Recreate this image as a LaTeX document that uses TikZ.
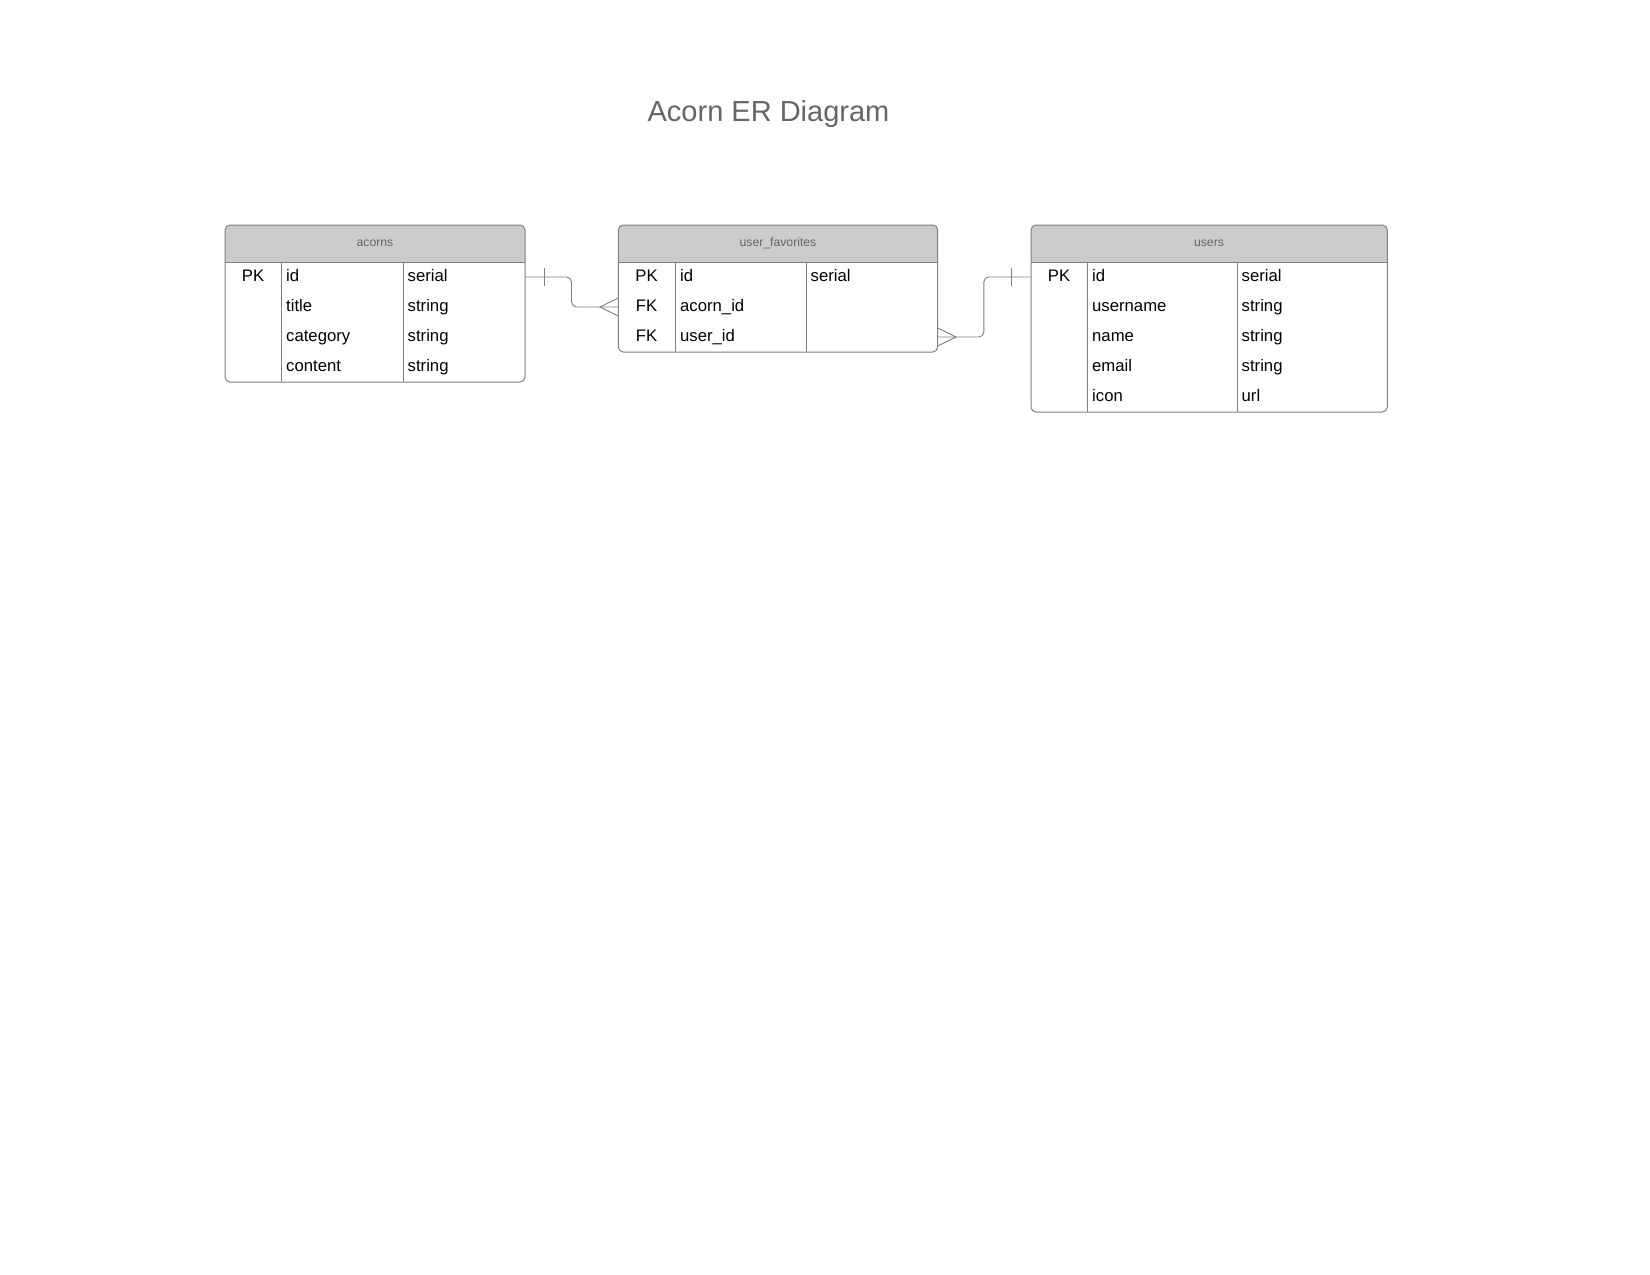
\documentclass[tikz,border=0pt]{standalone}
\usepackage{fontspec}
\setmainfont{Liberation Sans}
\definecolor{linegray}{RGB}{128,128,128}
\definecolor{headfill}{RGB}{204,204,204}
\definecolor{headtext}{RGB}{102,102,102}
\begin{document}
\begin{tikzpicture}[x=1pt,y=-1pt,
 tbl/.style={draw=linegray, line width=1pt, rounded corners=5pt, anchor=north west, inner sep=0pt, outer sep=0pt},
 hdr/.style={text=headtext, font=\fontsize{12.2}{14}\selectfont, anchor=base, inner sep=0pt},
 fld/.style={font=\fontsize{16.7}{20}\selectfont, anchor=base west, inner sep=0pt},
 keycell/.style={font=\fontsize{16.7}{20}\selectfont, anchor=base, inner sep=0pt},
 divline/.style={draw=linegray, line width=1pt},
 rel/.style={draw=linegray, line width=0.9pt, rounded corners=5pt},
 crow/.style={draw=linegray, line width=0.9pt}]
\useasboundingbox[fill=white] (0,0) rectangle (1650,1275);

% title
\node[font=\fontsize{29}{34}\selectfont, text=headtext, anchor=base, inner sep=0pt] (title) at (768.5,121.3) {Acorn ER Diagram};

% ---------- acorns ----------
\begin{scope}
 \clip (225,225) rectangle (525,262);
 \fill[headfill, rounded corners=5pt] (225,225) rectangle (525,382);
\end{scope}
\node[tbl, minimum width=300pt, minimum height=157pt] (acorns) at (225,225) {};
\draw[divline] (225,262) -- (525,262);
\draw[divline] (281,262) -- (281,382);
\draw[divline] (403.3,262) -- (403.3,382);
\node[hdr] (acorns-h) at (375,246.9) {acorns};
\node[keycell] (acorns-k1) at (253,281.5) {PK};
\node[fld] (acorns-n1) at (286,281.5) {id};
\node[fld] (acorns-t1) at (407.5,281.5) {serial};
\node[fld] (acorns-n2) at (286,311.5) {title};
\node[fld] (acorns-t2) at (407.5,311.5) {string};
\node[fld] (acorns-n3) at (286,341.5) {category};
\node[fld] (acorns-t3) at (407.5,341.5) {string};
\node[fld] (acorns-n4) at (286,371.5) {content};
\node[fld] (acorns-t4) at (407.5,371.5) {string};

% ---------- user_favorites ----------
\begin{scope}
 \clip (618.3,225) rectangle (937.7,262);
 \fill[headfill, rounded corners=5pt] (618.3,225) rectangle (937.7,352);
\end{scope}
\node[tbl, minimum width=319.4pt, minimum height=127pt] (fav) at (618.3,225) {};
\draw[divline] (618.3,262) -- (937.7,262);
\draw[divline] (675,262) -- (675,352);
\draw[divline] (806,262) -- (806,352);
\node[hdr] (fav-h) at (778,246.9) {user\_favorites};
\node[keycell] (fav-k1) at (646.5,281.5) {PK};
\node[fld] (fav-n1) at (680,281.5) {id};
\node[fld] (fav-t1) at (810.5,281.5) {serial};
\node[keycell] (fav-k2) at (646.5,311.5) {FK};
\node[fld] (fav-n2) at (680,311.5) {acorn\_id};
\node[keycell] (fav-k3) at (646.5,341.5) {FK};
\node[fld] (fav-n3) at (680,341.5) {user\_id};

% ---------- users ----------
\begin{scope}
 \clip (1031,225) rectangle (1387.3,262);
 \fill[headfill, rounded corners=5pt] (1031,225) rectangle (1387.3,412);
\end{scope}
\node[tbl, minimum width=356.3pt, minimum height=187pt] (users) at (1031,225) {};
\draw[divline] (1031,262) -- (1387.3,262);
\draw[divline] (1087.3,262) -- (1087.3,412);
\draw[divline] (1237.3,262) -- (1237.3,412);
\node[hdr] (users-h) at (1209,246.9) {users};
\node[keycell] (users-k1) at (1059,281.5) {PK};
\node[fld] (users-n1) at (1092,281.5) {id};
\node[fld] (users-t1) at (1241.5,281.5) {serial};
\node[fld] (users-n2) at (1092,311.5) {username};
\node[fld] (users-t2) at (1241.5,311.5) {string};
\node[fld] (users-n3) at (1092,341.5) {name};
\node[fld] (users-t3) at (1241.5,341.5) {string};
\node[fld] (users-n4) at (1092,371.5) {email};
\node[fld] (users-t4) at (1241.5,371.5) {string};
\node[fld] (users-n5) at (1092,401.5) {icon};
\node[fld] (users-t5) at (1241.5,401.5) {url};

% ---------- connector anchors ----------
\coordinate (acorns-r1) at (acorns.east |- 0,277);
\coordinate (fav-r2) at (fav.west |- 0,307);
\coordinate (fav-r3) at (fav.east |- 0,337);
\coordinate (users-r1) at (users.west |- 0,277);

% acorns (one) -> user_favorites (many)
\draw[rel] (acorns-r1) -- (571.5,277) -- (571.5,307) -- (fav-r2);
\draw[crow] ([xshift=19pt,yshift=9pt]acorns-r1) -- ([xshift=19pt,yshift=-9pt]acorns-r1);
\draw[crow] ([yshift=9pt]fav-r2) -- ([xshift=-18.3pt]fav-r2) -- ([yshift=-9pt]fav-r2);

% user_favorites (many) -> users (one)
\draw[rel] (fav-r3) -- (983.8,337) -- (983.8,277) -- (users-r1);
\draw[crow] ([xshift=-20pt,yshift=9pt]users-r1) -- ([xshift=-20pt,yshift=-9pt]users-r1);
\draw[crow] ([yshift=9pt]fav-r3) -- ([xshift=18.3pt]fav-r3) -- ([yshift=-9pt]fav-r3);
\end{tikzpicture}
\end{document}
